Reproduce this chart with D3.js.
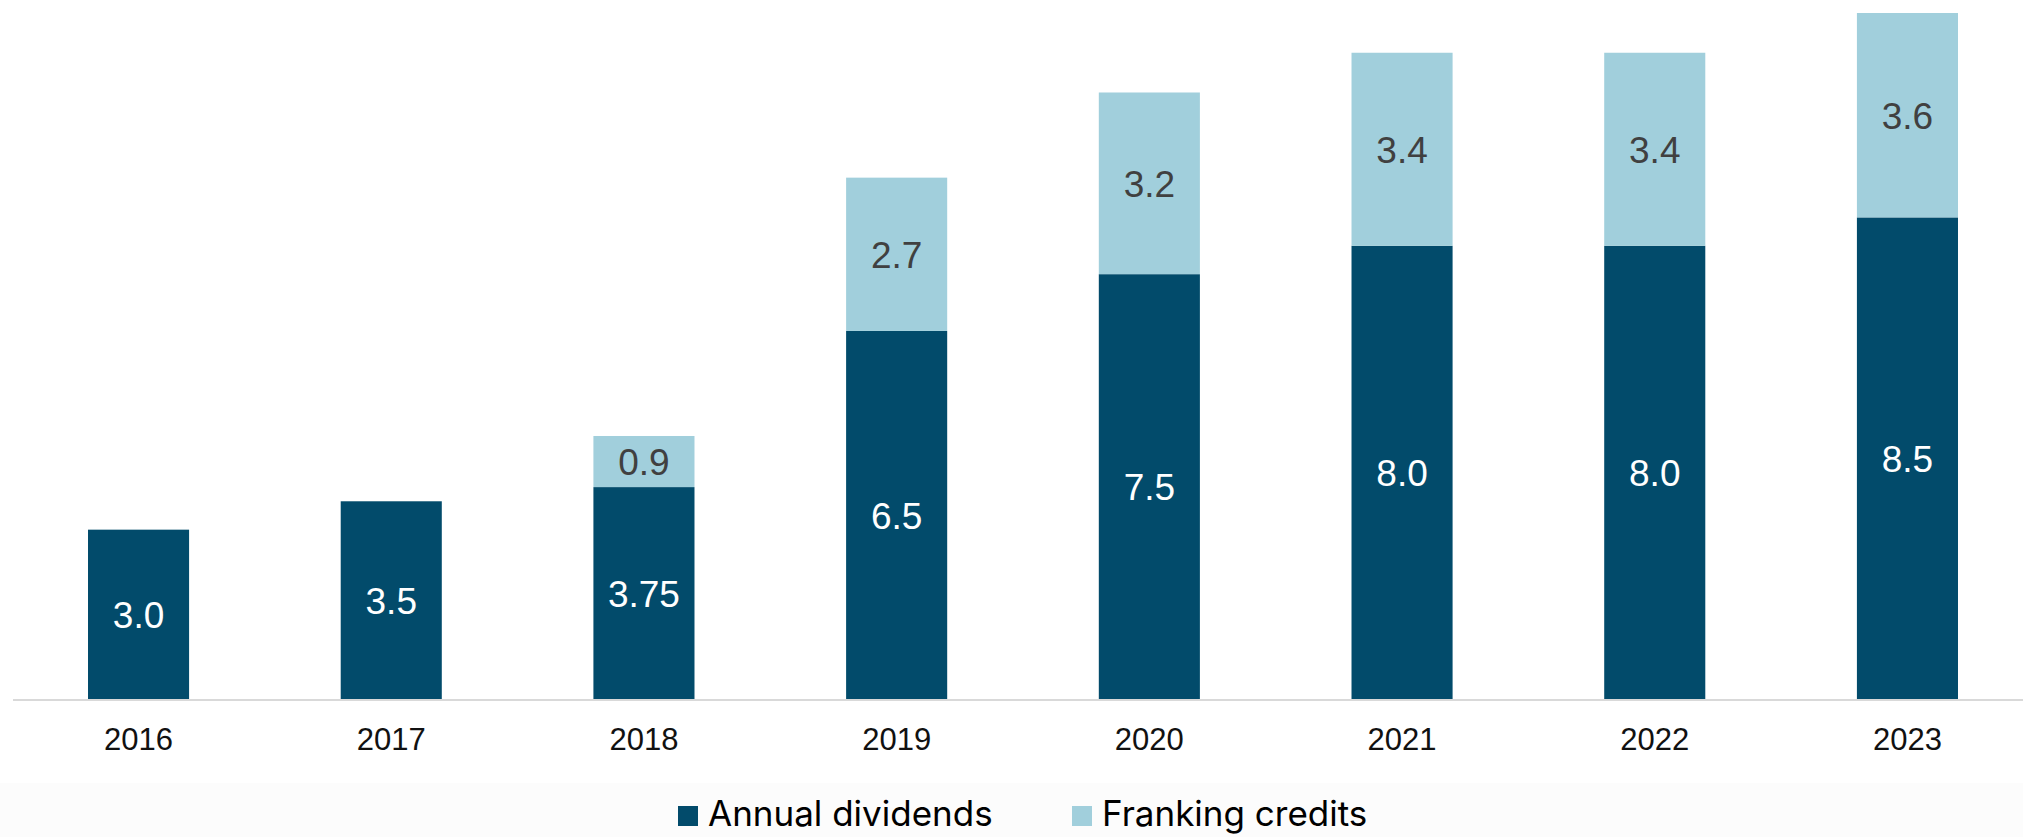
<!DOCTYPE html>
<html>
<head>
<meta charset="utf-8">
<script src="https://cdn.jsdelivr.net/npm/d3@7"></script>
<style>
  html, body { margin: 0; padding: 0; background: #fff; }
  svg { display: block; }
</style>
</head>
<body>
<div id="chart"></div>
<script>
// data
const years = ['2016', '2017', '2018', '2019', '2020', '2021', '2022', '2023']
const dividends = [3.0, 3.5, 3.75, 6.5, 7.5, 8.0, 8.0, 8.5]
const franking = [0, 0, 0.9, 2.7, 3.2, 3.4, 3.4, 3.6]
const dividendLabels = ['3.0', '3.5', '3.75', '6.5', '7.5', '8.0', '8.0', '8.5']
const frankingLabels = ['', '', '0.9', '2.7', '3.2', '3.4', '3.4', '3.6']
const seriesNames = ['Annual dividends', 'Franking credits']

const width = 2023, height = 837
const darkColor = '#024b6b', lightColor = '#a1cfdc'

const svg = d3.select('#chart').append('svg')
  .attr('width', width)
  .attr('height', height)

// legend band at the bottom
svg.append('rect')
  .attr('x', 0).attr('y', 783)
  .attr('width', width).attr('height', height - 783)
  .attr('fill', '#fcfcfc')

const x = d3.scaleBand().domain(years).range([12.2, 2033.8])
  .paddingInner(0.6).paddingOuter(0.3)
const y = d3.scaleLinear().domain([0, 12.1]).range([700, 13])

const rows = years.map((yr, i) => ({
  year: yr, div: dividends[i], fr: franking[i],
  divLabel: dividendLabels[i], frLabel: frankingLabels[i]
}))

// annual dividends
svg.selectAll('.bar-div').data(rows).join('rect')
  .attr('class', 'bar-div')
  .attr('x', d => x(d.year))
  .attr('y', d => y(d.div))
  .attr('width', x.bandwidth())
  .attr('height', d => y(0) - y(d.div))
  .attr('fill', darkColor)

// franking credits stacked on top
svg.selectAll('.bar-fr').data(rows.filter(d => d.fr > 0)).join('rect')
  .attr('class', 'bar-fr')
  .attr('x', d => x(d.year))
  .attr('y', d => y(d.div + d.fr))
  .attr('width', x.bandwidth())
  .attr('height', d => y(d.div) - y(d.div + d.fr))
  .attr('fill', lightColor)

// value labels
svg.selectAll('.lab-div').data(rows).join('text')
  .attr('class', 'lab-div')
  .attr('x', d => x(d.year) + x.bandwidth() / 2)
  .attr('y', d => (y(0) + y(d.div)) / 2)
  .attr('dy', '0.36em')
  .attr('text-anchor', 'middle')
  .attr('font-family', 'Liberation Sans, Arial, sans-serif')
  .attr('font-size', 37)
  .attr('fill', '#ffffff')
  .text(d => d.divLabel)

svg.selectAll('.lab-fr').data(rows.filter(d => d.fr > 0)).join('text')
  .attr('class', 'lab-fr')
  .attr('x', d => x(d.year) + x.bandwidth() / 2)
  .attr('y', d => (y(d.div) + y(d.div + d.fr)) / 2)
  .attr('dy', '0.36em')
  .attr('text-anchor', 'middle')
  .attr('font-family', 'Liberation Sans, Arial, sans-serif')
  .attr('font-size', 37)
  .attr('fill', '#404040')
  .text(d => d.frLabel)

// x axis
const xAxis = svg.append('g')
  .attr('transform', 'translate(0,' + y(0) + ')')
  .call(d3.axisBottom(x).tickSize(0).tickPadding(28))
xAxis.select('.domain')
  .attr('d', 'M13,0H' + width)
  .attr('stroke', '#d9d9d9')
  .attr('stroke-width', 2)
xAxis.selectAll('text')
  .attr('font-family', 'Liberation Sans, Arial, sans-serif')
  .attr('font-size', 31)
  .attr('fill', '#111')

// legend
const legendX = [678, 1072]
const legendColors = [darkColor, lightColor]
const legend = svg.selectAll('.legend').data(seriesNames).join('g')
  .attr('class', 'legend')
  .attr('transform', (d, i) => 'translate(' + legendX[i] + ',806)')
legend.append('rect')
  .attr('width', 20).attr('height', 20)
  .attr('fill', (d, i) => legendColors[i])
legend.append('text')
  .attr('x', 30).attr('y', 20)
  .attr('font-family', 'Inter, sans-serif')
  .attr('font-size', 35)
  .attr('fill', '#000')
  .text(d => d)
</script>
</body>
</html>
